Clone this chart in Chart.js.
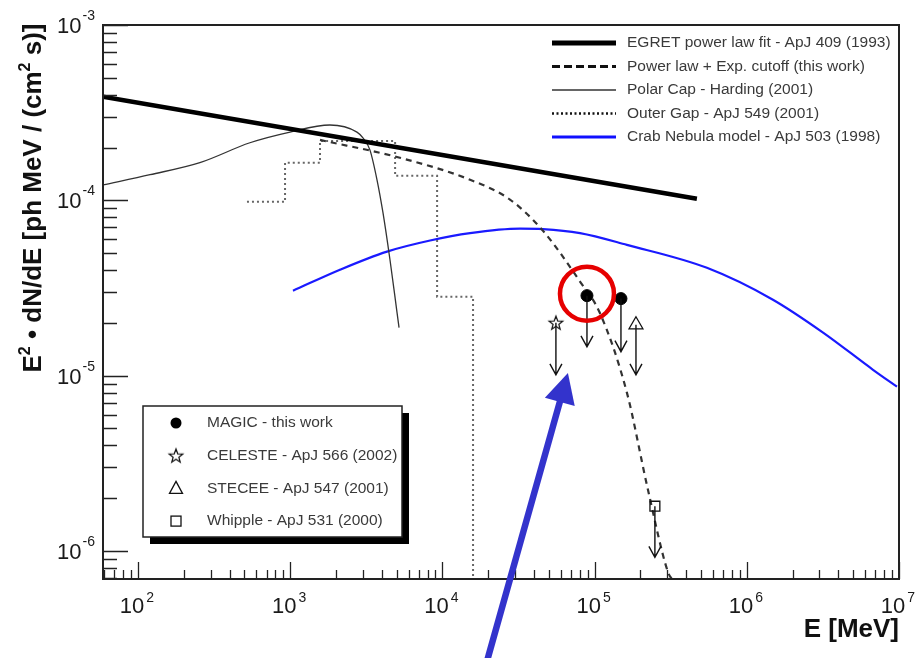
<!DOCTYPE html>
<html><head><meta charset="utf-8">
<script src="https://cdn.jsdelivr.net/npm/chart.js@4"></script>
<style>html,body{margin:0;padding:0;background:#fff;overflow:hidden}#wrap{width:918px;height:658px;position:relative}canvas{display:block}</style>
</head><body><div id="wrap"><canvas id="c" width="918" height="658" style="width:918px;height:658px"></canvas></div>
<script>
// ---------- data ----------
const egretE  = [59, 470000];
const egretF  = [3.9e-4, 1.02e-4];
const cutoffE = [1570, 5250, 15200, 27800, 45800, 80200, 108000, 163000, 224000, 303000, 322000];
const cutoffF = [2.21e-4, 1.75e-4, 1.31e-4, 1.01e-4, 6.7e-5, 3.44e-5, 2.29e-5, 8.0e-6, 2.24e-6, 7.6e-7, 6.9e-7];
const polarE  = [59, 120, 255, 544, 998, 1824, 2746, 3006, 3340, 3718, 4070, 4525, 5035, 5190];
const polarF  = [1.225e-4, 1.40e-4, 1.64e-4, 2.13e-4, 2.45e-4, 2.69e-4, 2.45e-4, 2.27e-4, 1.94e-4, 1.31e-4, 8.5e-5, 4.58e-5, 2.29e-5, 1.88e-5];
const outerE  = [520, 925, 925, 1570, 1570, 4890, 4890, 9230, 9230, 15900, 15900];
const outerF  = [9.8e-5, 9.8e-5, 1.64e-4, 1.64e-4, 2.18e-4, 2.18e-4, 1.38e-4, 1.38e-4, 2.82e-5, 2.82e-5, 5e-7];
const crabE   = [1043, 2123, 4325, 8300, 15200, 32400, 45800, 80200, 163000, 547000, 1485000, 3170000, 6750000, 9700000];
const crabF   = [3.05e-5, 4.02e-5, 5.1e-5, 5.9e-5, 6.5e-5, 6.89e-5, 6.85e-5, 6.5e-5, 5.57e-5, 4.12e-5, 2.71e-5, 1.76e-5, 1.08e-5, 8.65e-6];

const magicE = [89100, 149000];  const magicF = [2.86e-5, 2.75e-5];  const magicUL = [1.46e-5, 1.37e-5];
const celesteE = [55700];        const celesteF = [2.0e-5];           const celesteUL = [1.01e-5];
const steceeE = [187000];        const steceeF = [1.95e-5];           const steceeUL = [1.01e-5];
const whippleE = [249000];       const whippleF = [1.8e-6];           const whippleUL = [9.2e-7];

const xTickExp = [2, 3, 4, 5, 6, 7];
const yTickExp = [-3, -4, -5, -6];
const curveLabels = ['EGRET power law fit - ApJ 409 (1993)', 'Power law + Exp. cutoff (this work)',
  'Polar Cap - Harding (2001)', 'Outer Gap - ApJ 549 (2001)', 'Crab Nebula model - ApJ 503 (1998)'];
const pointLabels = ['MAGIC - this work', 'CELESTE - ApJ 566 (2002)', 'STECEE - ApJ 547 (2001)', 'Whipple - ApJ 531 (2000)'];
// annotation: highlighted point and pointer arrow (data coords)
const arrowTip = [66800, 1.035e-5];
const arrowTail = [18750, 2.04e-7];

// ---------- helpers ----------
const FONT = "'Liberation Sans', Arial, sans-serif";
const pts = (xs, ys) => xs.map((x, i) => ({x, y: ys[i]}));

const starCanvas = (() => {
  const c = document.createElement('canvas'); c.width = 18; c.height = 18;
  const g = c.getContext('2d'); g.strokeStyle = '#111'; g.lineWidth = 1.2; g.beginPath();
  for (let i = 0; i < 10; i++) {
    const r = i % 2 ? 3 : 7.2, a = -Math.PI / 2 + i * Math.PI / 5;
    const px = 9 + r * Math.cos(a), py = 9.5 + r * Math.sin(a);
    i ? g.lineTo(px, py) : g.moveTo(px, py);
  }
  g.closePath(); g.stroke(); return c;
})();

function drawRich(ctx, parts, x, y) {
  for (const p of parts) { ctx.font = p.font; ctx.fillText(p.t, x, y + (p.dy || 0)); x += ctx.measureText(p.t).width + (p.gap || 0); }
}
function richWidth(ctx, parts) {
  let w = 0; for (const p of parts) { ctx.font = p.font; w += ctx.measureText(p.t).width + (p.gap || 0); } return w;
}

const deco = {
  id: 'deco',
  afterDatasetsDraw(chart) {
    const ctx = chart.ctx, xs = chart.scales.x, ys = chart.scales.y;
    ctx.save(); ctx.strokeStyle = '#111'; ctx.lineWidth = 1.4;
    const ul = (E, F, T) => E.forEach((e, i) => {
      const px = xs.getPixelForValue(e), p0 = ys.getPixelForValue(F[i]), p1 = ys.getPixelForValue(T[i]);
      ctx.beginPath(); ctx.moveTo(px, p0); ctx.lineTo(px, p1);
      ctx.moveTo(px - 6, p1 - 11); ctx.lineTo(px, p1); ctx.lineTo(px + 6, p1 - 11); ctx.stroke();
    });
    ul(magicE, magicF, magicUL); ul(celesteE, celesteF, celesteUL); ul(steceeE, steceeF, steceeUL); ul(whippleE, whippleF, whippleUL);
    ctx.restore();
  },
  afterDraw(chart) {
    const ctx = chart.ctx, xs = chart.scales.x, ys = chart.scales.y, a = chart.chartArea;
    ctx.save();
    // ticks
    ctx.strokeStyle = '#222'; ctx.lineWidth = 1.3; ctx.beginPath();
    for (let d = 1; d <= 7; d++) for (let m = 1; m <= 9; m++) {
      const v = m * Math.pow(10, d); if (v < xs.min || v > xs.max) continue;
      const px = Math.round(xs.getPixelForValue(v)) + 0.5, L = m === 1 ? 17 : 9;
      ctx.moveTo(px, a.bottom); ctx.lineTo(px, a.bottom - L);
    }
    for (let d = -7; d <= -3; d++) for (let m = 1; m <= 9; m++) {
      const v = m * Math.pow(10, d); if (v < ys.min * 0.999 || v > ys.max * 1.001) continue;
      const py = Math.round(ys.getPixelForValue(v)) + 0.5, L = m === 1 ? 25 : 14;
      ctx.moveTo(a.left, py); ctx.lineTo(a.left + L, py);
    }
    ctx.stroke();
    // frame
    ctx.strokeStyle = '#222'; ctx.lineWidth = 2;
    ctx.strokeRect(a.left, a.top, a.right - a.left, a.bottom - a.top);
    // tick labels
    ctx.fillStyle = '#1a1a1a'; ctx.textBaseline = 'alphabetic'; ctx.textAlign = 'left';
    const big = '22px ' + FONT, sup = '14px ' + FONT;
    xTickExp.forEach(e => {
      const parts = [{t: '10', font: big, gap: 2}, {t: String(e), font: sup, dy: -11}];
      const w = richWidth(ctx, parts), px = xs.getPixelForValue(Math.pow(10, e));
      drawRich(ctx, parts, px - w / 2 - 1, 613);
    });
    yTickExp.forEach(e => {
      const parts = [{t: '10', font: big, gap: 1}, {t: String(e), font: sup, dy: -13}];
      const w = richWidth(ctx, parts), py = ys.getPixelForValue(Math.pow(10, e));
      drawRich(ctx, parts, 95 - w, py + 8);
    });
    // axis titles
    ctx.fillStyle = '#111';
    const tb = 'bold 26px ' + FONT, ts = 'bold 16px ' + FONT;
    ctx.font = tb; ctx.textAlign = 'right'; ctx.fillText('E [MeV]', a.right, 637); ctx.textAlign = 'left';
    const yt = [{t: 'E', font: tb}, {t: '2', font: ts, dy: -11}, {t: ' \u2022 dN/dE [ph MeV / (cm', font: tb}, {t: '2', font: ts, dy: -11}, {t: ' s)]', font: tb}];
    ctx.save(); ctx.translate(40.5, 198); ctx.rotate(-Math.PI / 2);
    drawRich(ctx, yt, -richWidth(ctx, yt) / 2, 0); ctx.restore();

    // top-right legend
    const styles = [
      {w: 5, c: '#000', d: []}, {w: 3, c: '#111', d: [8, 4]}, {w: 1.5, c: '#333', d: []},
      {w: 2.5, c: '#111', d: [2, 2.5]}, {w: 3, c: '#1010ff', d: []}];
    ctx.font = '15.5px ' + FONT; ctx.textBaseline = 'middle';
    curveLabels.forEach((lab, i) => {
      const y = a.top + 18 + i * 23.5, s = styles[i];
      ctx.save(); ctx.strokeStyle = s.c; ctx.lineWidth = s.w; ctx.setLineDash(s.d);
      ctx.beginPath(); ctx.moveTo(552, y); ctx.lineTo(616, y); ctx.stroke(); ctx.restore();
      ctx.fillStyle = '#3a3a3a'; ctx.fillText(lab, 627, y);
    });

    // lower-left legend with shadow
    const bx = 143, by = 406, bw = 259, bh = 131;
    ctx.fillStyle = '#000'; ctx.fillRect(bx + 7, by + 7, bw, bh);
    ctx.fillStyle = '#fff'; ctx.fillRect(bx, by, bw, bh);
    ctx.strokeStyle = '#222'; ctx.lineWidth = 1.5; ctx.strokeRect(bx, by, bw, bh);
    pointLabels.forEach((lab, i) => {
      const y = 423 + i * 32.7, mx = 176;
      ctx.strokeStyle = '#111'; ctx.lineWidth = 1.3; ctx.fillStyle = '#000';
      if (i === 0) { ctx.beginPath(); ctx.arc(mx, y, 5.5, 0, 2 * Math.PI); ctx.fill(); }
      else if (i === 1) { ctx.drawImage(starCanvas, mx - 9, y - 9); }
      else if (i === 2) { ctx.beginPath(); ctx.moveTo(mx, y - 7); ctx.lineTo(mx + 6.5, y + 5); ctx.lineTo(mx - 6.5, y + 5); ctx.closePath(); ctx.stroke(); }
      else { ctx.strokeRect(mx - 5, y - 5, 10, 10); }
      ctx.fillStyle = '#3a3a3a'; ctx.fillText(lab, 207, y);
    });

    // red highlight circle around first MAGIC point
    const cx = xs.getPixelForValue(magicE[0]), cy = ys.getPixelForValue(magicF[0]) - 2;
    ctx.strokeStyle = '#e60000'; ctx.lineWidth = 4.5;
    ctx.beginPath(); ctx.arc(cx, cy, 27, 0, 2 * Math.PI); ctx.stroke();

    // blue pointer arrow
    const tx = xs.getPixelForValue(arrowTip[0]), ty = ys.getPixelForValue(arrowTip[1]);
    const sx = xs.getPixelForValue(arrowTail[0]), sy = ys.getPixelForValue(arrowTail[1]);
    const dx = tx - sx, dy = ty - sy, L = Math.hypot(dx, dy), ux = dx / L, uy = dy / L;
    const hl = 30, hw = 15.5, bxp = tx - ux * hl, byp = ty - uy * hl;
    ctx.strokeStyle = '#3333cc'; ctx.fillStyle = '#3333cc'; ctx.lineWidth = 6.5;
    ctx.beginPath(); ctx.moveTo(sx, sy); ctx.lineTo(bxp + ux * 4, byp + uy * 4); ctx.stroke();
    ctx.beginPath(); ctx.moveTo(tx, ty); ctx.lineTo(bxp - uy * hw, byp + ux * hw); ctx.lineTo(bxp + uy * hw, byp - ux * hw); ctx.closePath(); ctx.fill();
    ctx.restore();
  }
};

new Chart(document.getElementById('c'), {
  type: 'line',
  data: {
    datasets: [
      {label: 'MAGIC', data: pts(magicE, magicF), showLine: false, pointStyle: 'circle', pointRadius: 6, backgroundColor: '#000', borderColor: '#000'},
      {label: 'CELESTE', data: pts(celesteE, celesteF), showLine: false, pointStyle: starCanvas, pointRadius: 8},
      {label: 'STECEE', data: pts(steceeE, steceeF), showLine: false, pointStyle: 'triangle', pointRadius: 8, backgroundColor: 'rgba(0,0,0,0)', borderColor: '#111', borderWidth: 1.3},
      {label: 'Whipple', data: pts(whippleE, whippleF), showLine: false, pointStyle: 'rect', pointRadius: 7, backgroundColor: 'rgba(0,0,0,0)', borderColor: '#111', borderWidth: 1.3},
      {label: curveLabels[0], data: pts(egretE, egretF), borderColor: '#000', borderWidth: 4.5, pointRadius: 0, tension: 0},
      {label: curveLabels[1], data: pts(cutoffE, cutoffF), borderColor: '#333', borderWidth: 2.2, borderDash: [6, 5], pointRadius: 0, cubicInterpolationMode: 'monotone'},
      {label: curveLabels[2], data: pts(polarE, polarF), borderColor: '#333', borderWidth: 1.3, pointRadius: 0, cubicInterpolationMode: 'monotone'},
      {label: curveLabels[3], data: pts(outerE, outerF), borderColor: '#666', borderWidth: 2, borderDash: [2, 3], pointRadius: 0, tension: 0},
      {label: curveLabels[4], data: pts(crabE, crabF), borderColor: '#1a1aff', borderWidth: 2.2, pointRadius: 0, cubicInterpolationMode: 'monotone'}
    ]
  },
  options: {
    responsive: false, animation: false, events: [],
    layout: {padding: {left: 103, top: 25, right: 19, bottom: 79}},
    plugins: {legend: {display: false}, tooltip: {enabled: false}},
    scales: {
      x: {type: 'logarithmic', min: 58.9, max: 1e7, display: false},
      y: {type: 'logarithmic', min: 6.92e-7, max: 1e-3, display: false}
    }
  },
  plugins: [deco]
});
</script>
</body></html>
